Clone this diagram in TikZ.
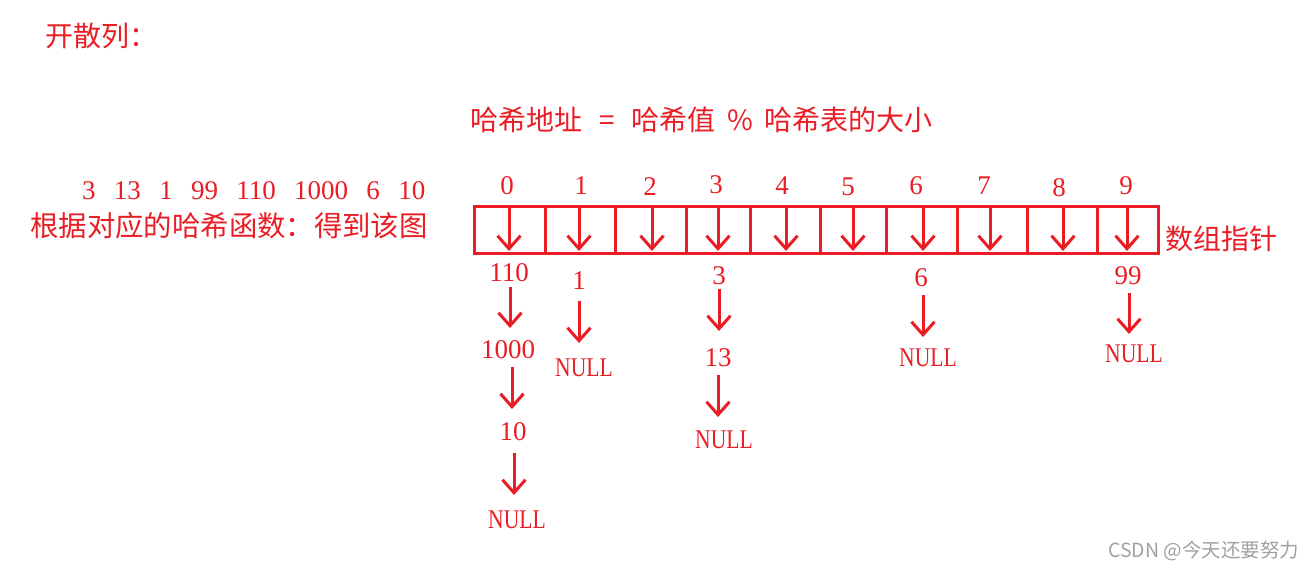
\documentclass[tikz,border=0pt]{standalone}
\usepackage{fontspec}
\setmainfont{Liberation Serif}
\newfontfamily\cjk{Noto Sans CJK SC}
\newfontfamily\nullf[FakeStretch=0.8]{Liberation Serif}
\usetikzlibrary{arrows.meta}
\definecolor{hred}{RGB}{234,28,36}
\definecolor{wmgray}{RGB}{160,160,160}
\tikzset{
  cell/.style={draw=hred, line width=3pt, inner sep=0pt, minimum height=47pt},
  ptr/.style={draw=hred, line width=3pt, -{Straight Barb[length=13pt,width=23pt]}},
  num/.style={text=hred, inner sep=0pt, font=\fontsize{27}{29}\selectfont},
  nul/.style={text=hred, inner sep=0pt, font=\nullf\fontsize{27}{29}\selectfont},
  zh/.style={text=hred, inner sep=0pt, anchor=west, font=\cjk\fontsize{28}{30}\selectfont},
}
\begin{document}
\begin{tikzpicture}[x=1pt,y=-1pt]
\useasboundingbox (0,0) rectangle (1310,570);
% texts
\node[zh] (title) at (45,36) {开散列：};
\node[zh] (formula) at (470,120) {哈希地址\hspace{17pt}=\hspace{17pt}哈希值\hspace{12pt}\%\hspace{11pt}哈希表的大小};
\node[num, anchor=west] (keys) at (82,191) {3\hspace{18.3pt}13\hspace{18.3pt}1\hspace{18.3pt}99\hspace{18.3pt}110\hspace{18.3pt}1000\hspace{18.3pt}6\hspace{18.3pt}10};
\node[zh, font=\cjk\fontsize{28.4}{30}\selectfont] (desc) at (30,226) {根据对应的哈希函数：得到该图};
\node[zh] (arrlabel) at (1165,239) {数组指针};
% array cells
\foreach \i/\a/\b in {0/474/545,1/545/615,2/615/686,3/686/750,4/750/820,5/820/886,6/886/957,7/957/1027,8/1027/1097,9/1097/1158}{
  \pgfmathsetmacro\w{\b-\a}
  \pgfmathsetmacro\c{(\a+\b)/2}
  \node[cell, minimum width=\w pt] (c\i) at (\c,229.5) {};
}
% indices
\foreach \i/\x/\y in {0/507/186,1/581/186,2/650/187,3/716/185,4/782/186,5/848/187,6/916/186,7/984/186,8/1059/188,9/1126/186}{
  \node[num] (idx\i) at (\x,\y) {\i};
}
% pointer arrows in cells
\foreach \i/\x in {0/509,1/579,2/652,3/718,4/786,5/853,6/923,7/990,8/1063,9/1127}{
  \coordinate (p\i t) at (\x,208);
  \coordinate (p\i b) at (\x,251);
  \draw[ptr] (p\i t) -- (p\i b);
}
% chain 0
\node[num] (e110) at (509,273) {110};
\node[num] (e1000) at (508,350) {1000};
\node[num] (e10) at (513,432) {10};
\node[nul] (n0) at (517,520) {NULL};
\draw[ptr] (510,287) -- (510,328);
\draw[ptr] (512,367) -- (512,409);
\draw[ptr] (514,453) -- (514,495);
% chain 1
\node[num] (e1) at (579,281) {1};
\node[nul] (n1) at (584,368) {NULL};
\draw[ptr] (579,301) -- (579,343);
% chain 3
\node[num] (e3) at (719,276) {3};
\node[num] (e13) at (718,358) {13};
\node[nul] (n3) at (724,440) {NULL};
\draw[ptr] (719,289) -- (719,331);
\draw[ptr] (718,375) -- (718,417);
% chain 6
\node[num] (e6) at (921,278) {6};
\node[nul] (n6) at (928,358) {NULL};
\draw[ptr] (923,295) -- (923,337);
% chain 9
\node[num] (e99) at (1128,276) {99};
\node[nul] (n9) at (1134,354) {NULL};
\draw[ptr] (1129,293) -- (1129,334);
% watermark
\node[text=wmgray, inner sep=0pt, anchor=west, font=\cjk\fontsize{19.5}{21}\selectfont] (wm) at (1108,551) {CSDN @今天还要努力};
\end{tikzpicture}
\end{document}
